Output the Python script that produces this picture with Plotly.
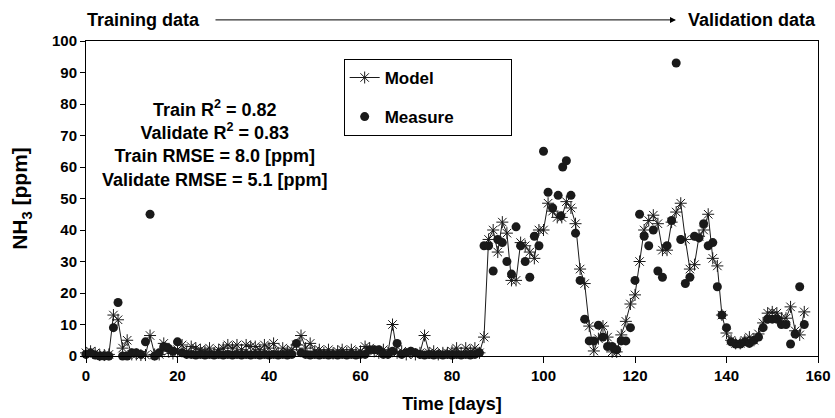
import plotly.graph_objects as go

# ---------------- data ----------------
model_days = list(range(0, 158))
model_nh3 = [
    1.0, 1.5, 1.0, 0.3, 0.3, 0.5, 13, 11.5, 2.5, 5,
    0.5, 0.5, 0.3, 0.3, 6.5, 0.5, 0.5, 4, 1.5, 0.8,
    2, 3.5, 1, 3, 2.5, 2, 1.5, 2.5, 1, 2,
    2.5, 3.5, 2.5, 3.5, 2, 3.5, 3, 3, 2, 3.5,
    2.5, 4, 1, 2.5, 1.5, 2, 3.5, 6.5, 2.5, 4,
    1.5, 2, 1, 2, 0.8, 1.5, 2, 1, 2, 1,
    1.5, 3, 2.5, 1.5, 1, 2, 1, 10, 1, 1.5,
    0.5, 1, 0.5, 1, 6.5, 1, 1.5, 0.5, 1, 1,
    1.5, 2.5, 1, 2.5, 1.5, 2.5, 1, 6, 37, 40,
    33, 42.5, 39, 24, 24, 36, 35, 33, 31, 40,
    40, 48.5, 46, 44, 44, 49, 47, 42, 27.6, 23,
    9.5, 1.6, 5.5, 9.5, 6, 1.3, 1.3, 6.7, 11, 16.5,
    19.4, 30, 40, 43, 44.7, 42, 33.6, 33.6, 42.5, 45.7,
    48.5, 37, 27.6, 29, 38, 40, 45, 31, 28.6, 13,
    7.3, 5, 4, 4, 5, 6, 5, 7, 10.5, 13.6,
    14, 13.6, 12, 12, 15.6, 8, 6.7, 14,
]

measure_days = list(range(0, 87)) + [
    87, 88, 89, 90, 91, 92, 93, 94, 95, 96, 97, 98, 99, 100,
    101, 102, 103.2, 103.8, 104.2, 105, 106, 107, 108, 109, 110, 111,
    112, 113, 114, 115, 116, 117, 118, 119, 120, 121, 122, 123, 124,
    125, 126, 127, 128, 129, 130, 131, 132, 133, 134, 135, 136, 137,
    138, 139, 140, 141, 142, 143, 144, 145, 146, 147, 148, 149, 150,
    151, 152, 153, 154, 155, 156, 157,
]
measure_nh3 = [
    0.5, 1, 0.3, 0, 0, 0, 9, 17, 0, 0,
    1, 1, 0.5, 4.5, 45, 0, 1, 3, 2.5, 1.5,
    4.5, 1, 0.5, 0.5, 0.3, 0.5, 0.3, 0.5, 0.3, 0.5,
    0.3, 0.5, 0.3, 0.5, 0.3, 0.5, 0.3, 0.5, 0.3, 0.5,
    0.3, 0.5, 0.3, 0.5, 0.3, 0.5, 4, 1, 0.5, 0.3,
    0.5, 0.3, 0.5, 0.3, 0.5, 0.3, 0.5, 0.3, 0.5, 0.3,
    0.5, 0.5, 2, 2, 2, 0.5, 0.5, 1.5, 4, 0.5,
    1, 1.5, 1, 0.5, 0.3, 0.5, 0.3, 0.5, 0.3, 0.5,
    0.3, 0.5, 0.3, 0.5, 0.3, 0.5, 1,
    35, 35, 27, 37, 36, 30, 26, 41, 35, 30, 25, 38, 35, 65,
    52, 47, 51, 44.5, 60, 62, 51, 39, 24, 11.7, 4.8, 4.8,
    9.8, 6, 3, 3, 2, 4.8, 4.8, 9, 24, 45, 38, 35, 40,
    27, 25, 35, 43, 93, 37, 23, 25, 38, 37.5, 42, 35, 36,
    22, 13, 9, 4.5, 3.8, 3.8, 4.5, 4, 5, 6, 9, 11.7, 11.7,
    11.7, 10, 10, 3.8, 7, 22, 10,
]

x_ticks = [0, 20, 40, 60, 80, 100, 120, 140, 160]
y_ticks = [0, 10, 20, 30, 40, 50, 60, 70, 80, 90, 100]

stats_lines = [
    "Train R<sup>2</sup> = 0.82",
    "Validate R<sup>2</sup> = 0.83",
    "Train RMSE = 8.0 [ppm]",
    "Validate RMSE = 5.1 [ppm]",
]

FONT = "Liberation Sans, Arial, sans-serif"
PAD = "\u00a0" * 11

fig = go.Figure()

fig.add_trace(go.Scatter(
    x=measure_days, y=measure_nh3, mode="markers", name="Measure" + PAD,
    marker=dict(symbol="circle", size=9, color="#1a1a1a"),
    cliponaxis=False, legendgroup="b", legendrank=2,
))
fig.add_trace(go.Scatter(
    x=model_days, y=model_nh3, mode="lines+markers", name="Model",
    line=dict(color="#1a1a1a", width=1),
    marker=dict(symbol="asterisk-open", size=10, color="#1a1a1a",
                line=dict(color="#1a1a1a", width=1)),
    cliponaxis=False, legendgroup="a", legendrank=1,
))

fig.update_layout(
    width=835, height=418,
    margin=dict(l=86, r=17, t=41, b=62, autoexpand=False),
    paper_bgcolor="white", plot_bgcolor="white",
    font=dict(family=FONT, size=14, color="black"),
    showlegend=True,
    legend=dict(
        x=0.352, y=0.943, xanchor="left", yanchor="top",
        bordercolor="black", borderwidth=1, bgcolor="white",
        font=dict(family=FONT, size=17, color="black", weight="bold"),
        tracegroupgap=14, itemwidth=30,
    ),
    xaxis=dict(
        range=[0, 160], tickvals=x_ticks, ticks="outside", ticklen=6,
        tickcolor="black", showline=True, linecolor="black", linewidth=1,
        mirror=True, showgrid=False, zeroline=False, automargin=False,
        tickfont=dict(family=FONT, size=15, weight="bold"),
        title=dict(text="<b>Time [days]</b>", font=dict(family=FONT, size=18), standoff=14),
    ),
    yaxis=dict(
        range=[0, 100], tickvals=y_ticks, ticks="outside", ticklen=5,
        tickcolor="black", showline=True, linecolor="black", linewidth=1,
        mirror=True, showgrid=False, zeroline=False, automargin=False,
        tickfont=dict(family=FONT, size=15, weight="bold"),
        title=dict(text="<b>NH<sub>3</sub> [ppm]</b>", font=dict(family=FONT, size=21), standoff=18),
    ),
)

fig.add_annotation(
    x=28.2, y=67.5, xref="x", yref="y", showarrow=False,
    text="<br>".join(stats_lines), align="center",
    xanchor="center", yanchor="middle",
    font=dict(family=FONT, size=18, color="black", weight="bold"),
)

fig.add_annotation(
    x=0.079, y=1.067, xref="paper", yref="paper", showarrow=False,
    xanchor="center", yanchor="middle",
    text="Training data", font=dict(family=FONT, size=18, weight="bold"),
)
fig.add_annotation(
    x=0.91, y=1.067, xref="paper", yref="paper", showarrow=False,
    xanchor="center", yanchor="middle",
    text="Validation data", font=dict(family=FONT, size=18, weight="bold"),
)
fig.add_annotation(
    x=0.806, y=1.067, xref="paper", yref="paper", text="",
    showarrow=True, ax=-462, ay=0, axref="pixel", ayref="pixel",
    arrowhead=2, arrowsize=1.2, arrowwidth=1, arrowcolor="black",
)

fig.write_html("out.html", config={"displayModeBar": False},
               post_script="document.body.style.margin='0';")
